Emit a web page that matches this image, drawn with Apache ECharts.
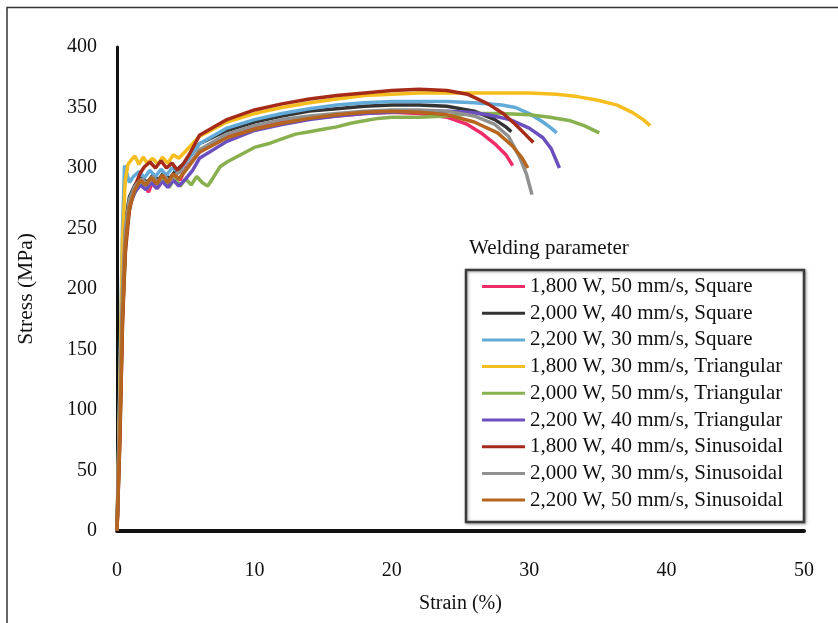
<!DOCTYPE html>
<html>
<head>
<meta charset="utf-8">
<script src="https://cdn.jsdelivr.net/npm/echarts@6/dist/echarts.min.js"></script>
<style>
html,body{margin:0;padding:0;background:#fff;}
#chart{width:838px;height:623px;}
</style>
</head>
<body>
<div id="chart"></div>
<script>
// ---- Data (strain %, stress MPa) ----
const xTicks = [0, 10, 20, 30, 40, 50];
const yTicks = [0, 50, 100, 150, 200, 250, 300, 350, 400];

const seriesNames = [
  '1,800 W, 50 mm/s, Square',
  '2,000 W, 40 mm/s, Square',
  '2,200 W, 30 mm/s, Square',
  '1,800 W, 30 mm/s, Triangular',
  '2,000 W, 50 mm/s, Triangular',
  '2,200 W, 40 mm/s, Triangular',
  '1,800 W, 40 mm/s, Sinusoidal',
  '2,000 W, 30 mm/s, Sinusoidal',
  '2,200 W, 50 mm/s, Sinusoidal'
];

const sq1800 = [[0,0],[0.2,90],[0.4,190],[0.6,245],[0.9,272],[1.3,283],[1.7,290],[2,286],[2.3,280],[2.6,289],[3,284],[3.4,292],[3.8,287],[4.2,294],[4.6,290],[5,300],[6,313],[7,320],[8,326],[10,333],[12,338],[14,341],[16,343],[18,345],[20,346],[22,345],[24,342],[25.5,336],[26.5,329],[27.5,320],[28.3,311],[28.8,302]];
const sq2000 = [[0,0],[0.2,100],[0.4,205],[0.6,255],[0.9,276],[1.3,286],[1.8,292],[2.2,288],[2.6,294],[3,290],[3.4,296],[3.8,291],[4.3,298],[5,305],[6,320],[8,331],[10,338],[12,343],[14,347],[16,349],[18,351],[20,352],[22,352],[24,351],[26,347],[27.5,340],[28.3,334],[28.7,330]];
const sq2200 = [[0,0],[0.2,120],[0.4,250],[0.55,302],[0.7,296],[0.9,288],[1.2,293],[1.6,297],[2,292],[2.4,298],[2.8,293],[3.2,299],[3.6,294],[4,300],[4.5,297],[5,305],[6,320],[8,333],[10,340],[12,345],[14,349],[16,352],[18,354],[20,355],[22,355],[24,355],[26,354],[28,352],[29,350],[30,345],[31,338],[31.6,333],[32,329]];
const tri1800 = [[0,0],[0.2,110],[0.4,240],[0.6,290],[0.8,303],[1,306],[1.3,310],[1.6,303],[1.9,309],[2.2,304],[2.6,308],[3,303],[3.3,309],[3.7,304],[4.1,311],[4.5,308],[5,314],[6,326],[8,338],[10,345],[12,350],[14,354],[16,357],[18,360],[20,361],[22,362],[24,362],[26,362],[28,362],[30,362],[32,361],[33.5,359],[35,356],[36.4,352],[37.5,346],[38.3,340],[38.8,335]];
const tri2000 = [[0,0],[0.2,80],[0.4,180],[0.7,250],[1,272],[1.4,282],[1.8,288],[2.2,283],[2.6,290],[3,285],[3.4,291],[3.8,284],[4.2,292],[4.6,285],[5,291],[5.4,286],[5.8,293],[6.2,288],[6.6,285],[7,292],[7.5,301],[8,305],[9,311],[10,317],[11,320],[12,324],[13,328],[14,330],[15,332],[16,334],[17,337],[18,339],[19,341],[20,342],[22,342],[24,343],[26,345],[28,345],[30,344],[31.5,342],[33,339],[34,335],[35.1,329]];
const tri2200 = [[0,0],[0.2,85],[0.4,185],[0.6,240],[0.9,268],[1.3,280],[1.7,286],[2.1,282],[2.5,288],[2.9,283],[3.3,289],[3.7,284],[4.1,290],[4.5,285],[5,291],[5.5,298],[6,308],[8,322],[10,331],[12,336],[14,340],[16,343],[18,345],[20,346],[22,347],[24,347],[25.7,346],[27,344],[28.6,340],[30,333],[31,325],[31.6,316],[32.2,300]];
const sin1800 = [[0,0],[0.2,70],[0.4,170],[0.6,230],[0.9,265],[1.3,285],[1.7,296],[2,301],[2.4,305],[2.8,300],[3.2,306],[3.6,300],[4,304],[4.4,298],[4.8,303],[5.3,312],[6,327],[8,340],[10,348],[12,353],[14,357],[16,360],[18,362],[20,364],[22,365],[24,364],[25.5,361],[27,353],[28.1,345],[29,336],[29.7,328],[30.3,321]];
const sin2000 = [[0,0],[0.2,95],[0.4,200],[0.6,250],[0.9,274],[1.3,285],[1.8,291],[2.2,287],[2.6,293],[3,288],[3.4,294],[3.8,289],[4.3,295],[5,299],[6,315],[8,328],[10,335],[12,340],[14,343],[16,345],[18,347],[20,348],[22,348],[24,347],[26,343],[27.5,336],[28.5,326],[29.3,309],[29.8,295],[30.2,278]];
const sin2200 = [[0,0],[0.2,75],[0.4,175],[0.6,235],[0.9,268],[1.3,282],[1.7,290],[2.1,286],[2.5,292],[2.9,287],[3.3,294],[3.7,288],[4.1,295],[4.5,291],[5,298],[6,313],[8,325],[10,332],[12,337],[14,341],[16,344],[18,346],[20,347],[22,346],[24,344],[26,338],[27.7,329],[28.8,318],[29.5,308],[29.9,300]];

const seriesData = [sq1800, sq2000, sq2200, tri1800, tri2000, tri2200, sin1800, sin2000, sin2200];
const seriesColors = ['#ee2c67','#333333','#62aad8','#f6bd1f','#88b04e','#6b4fbf','#a62a18','#909090','#b5651d'];

const chart = echarts.init(document.getElementById('chart'), null, {renderer: 'canvas'});
const serif = '"Liberation Serif", "Times New Roman", serif';

const option = {
  animation: false,
  backgroundColor: '#ffffff',
  textStyle: {fontFamily: serif},
  grid: {left: 117, right: 34, top: 47, bottom: 92, containLabel: false},
  title: {
    text: 'Welding parameter',
    left: 464, top: 233,
    textStyle: {fontFamily: serif, fontSize: 21, fontWeight: 'normal', color: '#111'}
  },
  legend: {
    orient: 'vertical',
    left: 482, top: 276,
    icon: 'rect',
    itemWidth: 43, itemHeight: 3,
    itemGap: 5.7,
    padding: 0,
    textStyle: {fontFamily: serif, fontSize: 21, color: '#111', lineHeight: 21},
    data: seriesNames
  },
  xAxis: {
    type: 'value', min: 0, max: 50, interval: 10,
    name: 'Strain (%)', nameLocation: 'middle', nameGap: 63,
    nameTextStyle: {fontFamily: serif, fontSize: 20, color: '#111'},
    axisLine: {show: true, onZero: false, lineStyle: {color: '#111', width: 4}},
    axisTick: {show: false},
    splitLine: {show: false},
    axisLabel: {margin: 30, fontFamily: serif, fontSize: 20, color: '#111',
      formatter: v => xTicks.includes(v) ? String(v) : ''}
  },
  yAxis: {
    type: 'value', min: 0, max: 400, interval: 50,
    name: 'Stress (MPa)', nameLocation: 'middle', nameGap: 80,
    nameTextStyle: {fontFamily: serif, fontSize: 21.5, color: '#111'},
    axisLine: {show: true, onZero: false, lineStyle: {color: '#111', width: 3}},
    axisTick: {show: false},
    splitLine: {show: false},
    axisLabel: {margin: 20, fontFamily: serif, fontSize: 20, color: '#111',
      formatter: v => yTicks.includes(v) ? String(v) : ''}
  },
  graphic: [
    {type: 'polyline', z: -1, shape: {points: [[7, 640], [7, 7.5], [850, 7.5]]},
      style: {stroke: '#333', lineWidth: 1.5, fill: null}},
    {type: 'rect', z: 0, shape: {x: 466, y: 270, width: 338, height: 252},
      style: {stroke: '#3c3c3c', lineWidth: 2.5, fill: '#ffffff',
        shadowColor: 'rgba(0,0,0,0.35)', shadowBlur: 3, shadowOffsetX: 1, shadowOffsetY: 1}}
  ],
  series: seriesNames.map((name, i) => ({
    name: name,
    type: 'line',
    data: seriesData[i],
    showSymbol: false,
    color: seriesColors[i],
    lineStyle: {width: 3.5, color: seriesColors[i]},
    z: 2 + i
  }))
};
chart.setOption(option);
</script>
</body>
</html>
